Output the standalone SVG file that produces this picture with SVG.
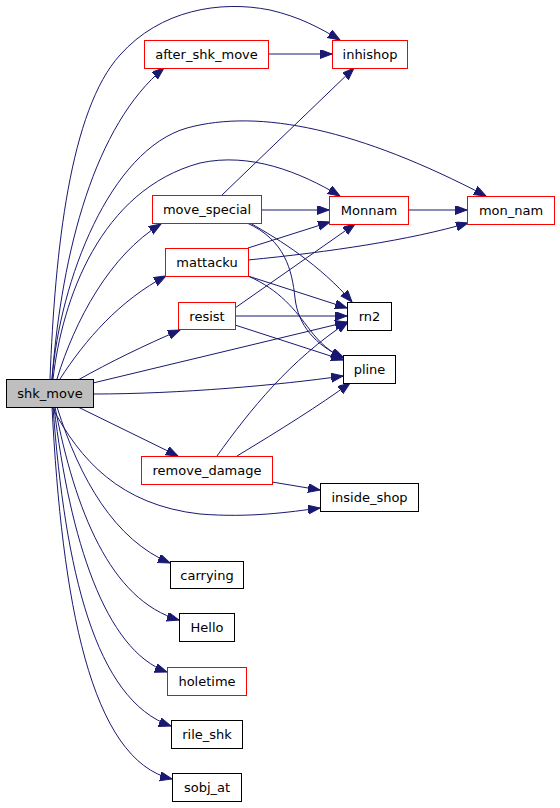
<svg xmlns="http://www.w3.org/2000/svg" width="560" height="808" viewBox="0 0 560 808">
<style>
.n rect{fill:#fff;stroke:#000;stroke-width:1}
.r rect{stroke:#ff0000}
.root rect{fill:#bfbfbf}
.n text{font-family:"DejaVu Sans",sans-serif;font-size:13px;text-anchor:middle;fill:#000}
.e path{fill:none;stroke:#191970;stroke-width:1;marker-end:url(#ah)}
</style>
<defs>
<marker id="ah" markerUnits="userSpaceOnUse" markerWidth="13" markerHeight="10" refX="12" refY="4.5" orient="auto">
<path d="M0,0 L12,4.5 L0,9 z" fill="#191970" stroke="#191970" stroke-width="1"/>
</marker>
</defs>
<rect width="560" height="808" fill="#fff"/>
<g id="edges" class="e">
<path d="M50,379 C55,250 70,110 120,55 C160,10 220,0 270,10 C300,17 320,28 340,40"/>
<path d="M52,379 C62,250 95,125 164,68"/>
<path d="M52,379 C60,280 110,150 187,128 C260,108 360,130 486,196"/>
<path d="M53,379 C62,300 100,190 200,163 C250,152 300,172 340,196"/>
<path d="M57,379 C75,320 110,255 161,224"/>
<path d="M60,379 C85,340 120,300 166,276"/>
<path d="M78,380 C110,362 145,345 180,330"/>
<path d="M93,383 L347,322"/>
<path d="M93,394 C180,394 280,385 343,376"/>
<path d="M78,407 L178,456"/>
<path d="M52,407 C80,460 120,505 200,514 C250,518 290,512 320,508"/>
<path d="M57,407 C80,480 115,540 170,563"/>
<path d="M55,407 C75,510 110,600 179,620"/>
<path d="M54,407 C70,540 105,650 167,672"/>
<path d="M53,407 C65,570 95,700 171,726"/>
<path d="M52,407 C62,600 90,760 172,779"/>
<path d="M269,54 L332,54"/>
<path d="M222,195 L354,68"/>
<path d="M261,210 L329,210"/>
<path d="M250,223 C280,240 320,265 352,302"/>
<path d="M247,223 C285,240 292,270 295,298 C298,325 315,345 344,358"/>
<path d="M248,276 C280,290 295,310 310,330 C320,343 330,352 343,358"/>
<path d="M248,248 L330,222"/>
<path d="M248,260 C330,252 410,240 468,223"/>
<path d="M248,276 L347,308"/>
<path d="M235,308 L355,224"/>
<path d="M235,316 L347,316"/>
<path d="M235,325 L343,360"/>
<path d="M217,456 C250,410 290,360 348,322"/>
<path d="M237,456 C280,430 320,405 350,383"/>
<path d="M272,482 L320,490"/>
<path d="M408,210 L467,210"/>
</g>
<g id="shk_move" class="n root"><rect x="6.5" y="379.5" width="87" height="28"/><text x="50" y="398">shk_move</text></g>
<g id="after_shk_move" class="n r"><rect x="144.5" y="40.5" width="124" height="28"/><text x="206.5" y="59">after_shk_move</text></g>
<g id="inhishop" class="n r"><rect x="332.5" y="40.5" width="75" height="28"/><text x="370" y="59">inhishop</text></g>
<g id="move_special" class="n r"><rect x="152.5" y="195.5" width="109" height="28"/><text x="207" y="214">move_special</text></g>
<g id="Monnam" class="n r"><rect x="329.5" y="196.5" width="79" height="28"/><text x="369" y="215">Monnam</text></g>
<g id="mon_nam" class="n r"><rect x="467.5" y="196.5" width="87" height="28"/><text x="511" y="215">mon_nam</text></g>
<g id="mattacku" class="n r"><rect x="165.5" y="248.5" width="83" height="28"/><text x="207" y="267">mattacku</text></g>
<g id="resist" class="n r"><rect x="178.5" y="302.5" width="57" height="27"/><text x="207" y="320.5">resist</text></g>
<g id="rn2" class="n"><rect x="347.5" y="302.5" width="44" height="28"/><text x="369.5" y="321">rn2</text></g>
<g id="pline" class="n"><rect x="343.5" y="355.5" width="52" height="28"/><text x="369.5" y="374">pline</text></g>
<g id="remove_damage" class="n r"><rect x="141.5" y="456.5" width="131" height="28"/><text x="207" y="475">remove_damage</text></g>
<g id="inside_shop" class="n"><rect x="320.5" y="483.5" width="98" height="28"/><text x="369.5" y="502">inside_shop</text></g>
<g id="carrying" class="n"><rect x="170.5" y="561.5" width="73" height="27"/><text x="207" y="580">carrying</text></g>
<g id="Hello" class="n"><rect x="179.5" y="613.5" width="55" height="28"/><text x="207" y="632">Hello</text></g>
<g id="holetime" class="n r"><rect x="167.5" y="667.5" width="79" height="28"/><text x="207" y="686">holetime</text></g>
<g id="rile_shk" class="n"><rect x="171.5" y="720.5" width="71" height="28"/><text x="207" y="739">rile_shk</text></g>
<g id="sobj_at" class="n"><rect x="172.5" y="773.5" width="69" height="28"/><text x="207" y="792">sobj_at</text></g>
</svg>
